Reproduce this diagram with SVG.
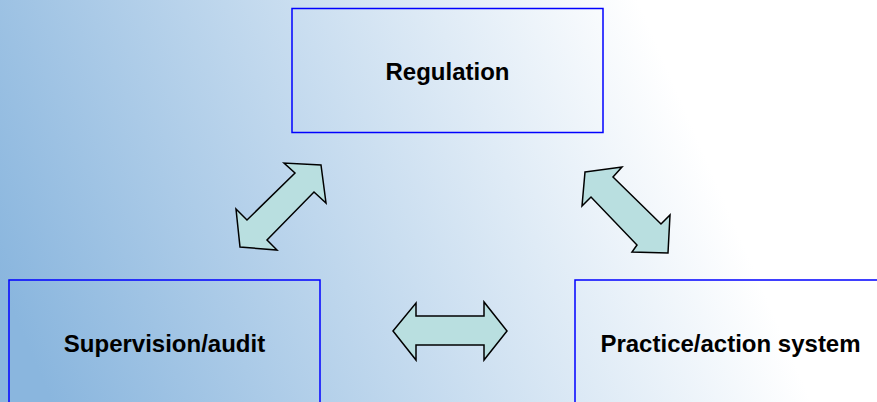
<svg xmlns="http://www.w3.org/2000/svg" width="877" height="402" viewBox="0 0 877 402">
<defs>
<linearGradient id="bg" gradientUnits="userSpaceOnUse" x1="52" y1="402" x2="692" y2="125">
<stop offset="0" stop-color="#8ab6de"/>
<stop offset="1" stop-color="#ffffff"/>
</linearGradient>
<style>
.box{fill:none;stroke:#0000ff;stroke-width:1.5}
.lbl{font-family:"Liberation Sans",Arial,sans-serif;font-weight:bold;font-size:24px;fill:#000;text-anchor:middle}
.arr{fill:#b9dfe0;stroke:#000;stroke-width:1.5;stroke-linejoin:miter}
</style>
</defs>
<rect x="0" y="0" width="877" height="402" fill="url(#bg)"/>
<g id="connectors">
<polygon class="arr" points="321,165 326,203 314,192 267,240 277,250 240,247 236,209 247,220 295,173 284,163"/>
<polygon class="arr" points="585,172 622,167 613,177 661,224 670,215 668,253 632,252 637,245 591,197 582,206"/>
<polygon class="arr" points="393,331 416,303 416,316 484,316 484,302 507,331 484,360 484,345 416,345 416,360"/>
</g>
<g id="regulation">
<rect class="box" x="292" y="8.5" width="311" height="124"/>
<text class="lbl" x="447.5" y="80">Regulation</text>
</g>
<g id="supervision">
<rect class="box" x="9" y="280" width="311" height="130"/>
<text class="lbl" x="164.5" y="352">Supervision/audit</text>
</g>
<g id="practice">
<rect class="box" x="575" y="280" width="311" height="130"/>
<text class="lbl" x="730.5" y="352">Practice/action system</text>
</g>
</svg>
